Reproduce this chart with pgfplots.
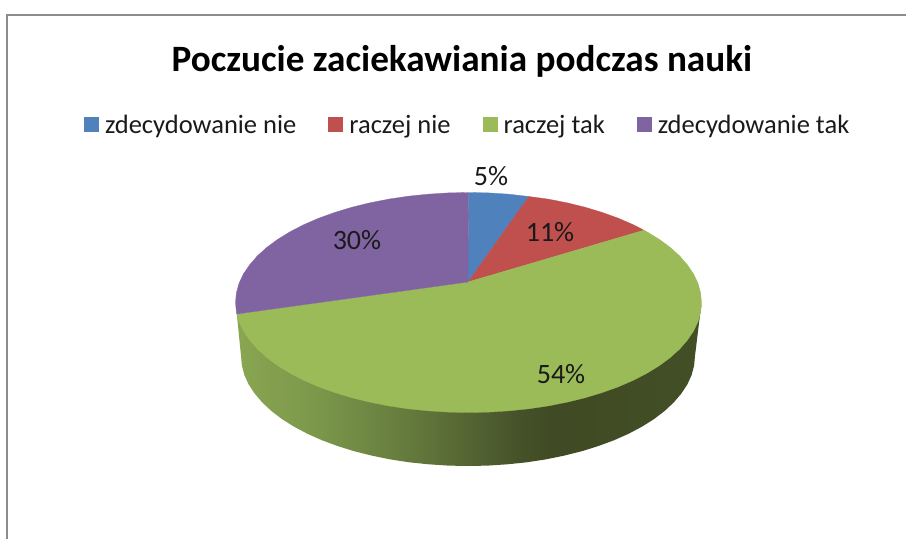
\documentclass[border=0pt]{standalone}
\usepackage{fontspec}
\setmainfont{Carlito}
\usepackage{pgfplots}
\pgfplotsset{compat=1.18}

\definecolor{sliceblue}{HTML}{4F81BD}
\definecolor{slicered}{HTML}{C0504D}
\definecolor{slicegreen}{HTML}{9BBB59}
\definecolor{slicepurple}{HTML}{8064A2}
\definecolor{framegray}{HTML}{8C8C8C}
\definecolor{labeltext}{HTML}{1A1A1A}

% side of the disc: light on the left, dark from about 3/4 of the way
\pgfdeclarehorizontalshading{discside}{100bp}{
  rgb(0bp)=(0.54,0.65,0.32);
  rgb(25bp)=(0.54,0.65,0.32);
  rgb(34bp)=(0.48,0.59,0.29);
  rgb(45bp)=(0.38,0.46,0.23);
  rgb(55.5bp)=(0.27,0.32,0.16);
  rgb(59bp)=(0.25,0.29,0.14);
  rgb(75bp)=(0.26,0.31,0.15);
  rgb(100bp)=(0.26,0.31,0.15)
}

\begin{document}
\begin{tikzpicture}
\begin{axis}[
    scale only axis,
    width=906pt, height=539pt,
    xmin=0, xmax=906,
    ymin=0, ymax=539,
    y dir=reverse,
    axis line style={draw=none},
    xtick=\empty, ytick=\empty,
    legend columns=4,
    legend cell align=left,
    legend style={
        draw=none, fill=none,
        at={(axis cs:84,113.5)}, anchor=north west,
        inner sep=0pt, outer sep=0pt,
        text=labeltext,
        font=\fontsize{26.5}{30}\selectfont,
        /tikz/every even column/.append style={column sep=30pt},
    },
    legend image code/.code={
        \fill[#1, draw=none] (0pt,-7pt) rectangle (15pt,8pt);
        \path[draw=none, fill=none] (0pt,0pt) -- (19pt,0pt);
    },
]

% chart frame
\addplot[forget plot, framegray, line width=2.2pt] coordinates {
    (7,539) (7,15) (906,15)
};

% side band of the disc, upper part is covered by the top face
\addplot[forget plot, draw=none, shading=discside] coordinates {
    (701.5,305) (700,315) (695,356) (694.1,365.6) (691.6,375.1) (687.3,384.5)
    (681.3,393.6) (673.7,402.5) (664.6,411) (654,419.1) (641.9,426.7)
    (628.5,433.8) (613.9,440.3) (598.2,446.1) (581.5,451.3) (563.9,455.7)
    (545.6,459.4) (526.8,462.3) (507.4,464.3) (487.8,465.6) (468,466)
    (448.2,465.6) (428.6,464.3) (409.2,462.3) (390.4,459.4) (372.1,455.7)
    (354.5,451.3) (337.8,446.1) (322.1,440.3) (307.5,433.8) (294.1,426.7)
    (282,419.1) (271.4,411) (262.3,402.5) (254.7,393.6) (248.7,384.5)
    (244.4,375.1) (241.9,365.6) (241,356) (236.8,314) (701.5,305)
} -- cycle;

% top face
\addplot[sliceblue, fill=sliceblue, line width=0.3pt] coordinates {
    (468,282) (468.5,192.5) (488.8,192.9) (509,194.2) (528.8,196.5)
} -- cycle;
\addlegendentry{zdecydowanie nie}

\addplot[slicered, fill=slicered, line width=0.3pt] coordinates {
    (468,282) (528.8,196.5) (548.2,199.1) (567,202.8) (585,207.2)
    (602.1,212.4) (618.3,218.2) (633.3,224.7) (644,230.2)
} -- cycle;
\addlegendentry{raczej nie}

\addplot[slicegreen, fill=slicegreen, line width=0.3pt] coordinates {
    (468,282) (644,230.2) (647,231.8) (659.4,239.4) (670.3,247.5) (679.7,256)
    (687.4,264.9) (693.6,274) (698,283.4) (700.6,292.9) (701.5,302.5)
    (700.6,312.1) (698,321.6) (693.6,331) (687.4,340.1) (679.7,349)
    (670.3,357.5) (659.4,365.6) (647,373.2) (633.3,380.3) (618.3,386.8)
    (602.1,392.6) (585,397.8) (567,402.2) (548.2,405.9) (528.8,408.8)
    (509,410.8) (488.8,412.1) (468.5,412.5) (448.2,412.1) (428,410.8)
    (408.2,408.8) (388.8,405.9) (370,402.2) (352,397.8) (334.9,392.6)
    (318.7,386.8) (303.7,380.3) (290,373.2) (277.6,365.6) (266.7,357.5)
    (257.3,349) (249.6,340.1) (243.4,331) (239,321.6) (236.8,314)
} -- cycle;
\addlegendentry{raczej tak}

\addplot[slicepurple, fill=slicepurple, line width=0.3pt] coordinates {
    (468,282) (236.8,314) (236.4,312.1) (235.5,302.5) (236.4,292.9) (239,283.4)
    (243.4,274) (249.6,264.9) (257.3,256) (266.7,247.5) (277.6,239.4)
    (290,231.8) (303.7,224.7) (318.7,218.2) (334.9,212.4) (352,207.2)
    (370,202.8) (388.8,199.1) (408.2,196.2) (428,194.2) (448.2,192.9)
    (468.5,192.5)
} -- cycle;
\addlegendentry{zdecydowanie tak}

\node[font=\fontsize{37.2}{42}\selectfont\bfseries] at (axis cs:462,61) {Poczucie zaciekawiania podczas nauki};

\node[text=labeltext, font=\fontsize{28}{32}\selectfont] at (axis cs:491,176) {5\%};
\node[text=labeltext, font=\fontsize{28}{32}\selectfont] at (axis cs:550,232) {11\%};
\node[text=labeltext, font=\fontsize{28}{32}\selectfont] at (axis cs:561,374) {54\%};
\node[text=labeltext, font=\fontsize{28}{32}\selectfont] at (axis cs:357,240) {30\%};

\end{axis}
\end{tikzpicture}
\end{document}
